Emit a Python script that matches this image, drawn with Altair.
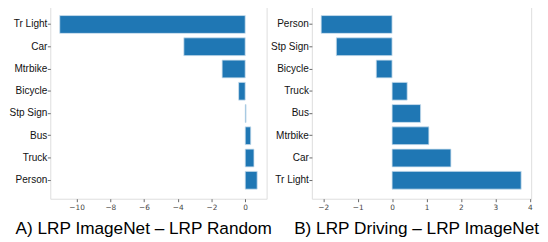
import altair as alt
import pandas as pd

cats_a = ["Tr Light", "Car", "Mtrbike", "Bicycle", "Stp Sign", "Bus", "Truck", "Person"]
vals_a = [-11.0, -3.64, -1.37, -0.39, 0.05, 0.33, 0.52, 0.71]
cats_b = ["Person", "Stp Sign", "Bicycle", "Truck", "Bus", "Mtrbike", "Car", "Tr Light"]
vals_b = [-2.06, -1.62, -0.46, 0.44, 0.83, 1.07, 1.71, 3.75]
ticks_a = [-10, -8, -6, -4, -2, 0]
ticks_b = [-2, -1, 0, 1, 2, 3, 4]
title_a = "A) LRP ImageNet – LRP Random"
title_b = "B) LRP Driving – LRP ImageNet"

BLUE = "#1f77b4"


def panel(cats, vals, domain, ticks, title, width, dx):
    df = pd.DataFrame({"cat": cats, "val": vals})
    return (
        alt.Chart(df)
        .mark_bar(color=BLUE, stroke="#cfe0ee", strokeWidth=0.8)
        .encode(
            y=alt.Y(
                "cat:N",
                sort=cats,
                title=None,
                scale=alt.Scale(paddingInner=0.2, paddingOuter=0.43),
                axis=alt.Axis(
                    labelFont="Liberation Sans",
                    labelFontSize=10.2,
                    labelColor="#111",
                    tickSize=3,
                    tickColor="#666",
                    labelPadding=0.5,
                    domain=False,
                ),
            ),
            x=alt.X(
                "val:Q",
                title=None,
                scale=alt.Scale(domain=domain, nice=False, zero=False),
                axis=alt.Axis(
                    values=ticks,
                    format="d",
                    labelFont="DejaVu Sans",
                    labelFontSize=7.5,
                    labelColor="#444",
                    tickSize=3,
                    tickColor="#666",
                    labelPadding=2,
                    grid=False,
                    domain=False,
                    labelExpr="replace(datum.label, '-', '\u2212')",
                ),
            ),
        )
        .properties(
            width=width,
            height=196,
            title=alt.TitleParams(
                title,
                orient="bottom",
                anchor="middle",
                font="Liberation Sans",
                fontSize=17.5,
                fontWeight="normal",
                color="#000",
                offset=9,
                dx=dx,
            ),
        )
    )


a = panel(cats_a, vals_a, [-11.56, 1.27], ticks_a, title_a, 220, -15)
b = panel(cats_b, vals_b, [-2.33, 4.04], ticks_b, title_b, 223, -5)

chart = (
    alt.hconcat(a, b, spacing=46, bounds="flush")
    .properties(padding={"left": 0, "top": -5, "right": 0, "bottom": 0})
    .configure_view(stroke="#8a8a8a", strokeWidth=1.2)
    .configure(background="white")
)

chart.save("out.html", embed_options={"renderer": "svg", "actions": False})
